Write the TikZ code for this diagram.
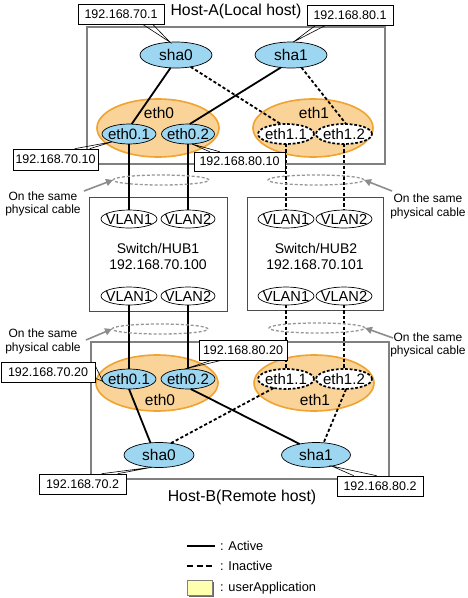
\documentclass[tikz,border=0pt]{standalone}
\usepackage{fontspec}
\setmainfont{Liberation Sans}
\usetikzlibrary{shapes.geometric,arrows.meta}
\definecolor{shablue}{RGB}{156,214,240}
\definecolor{ethfill}{RGB}{250,211,152}
\definecolor{ethdraw}{RGB}{240,163,48}
\definecolor{hostgray}{RGB}{128,128,128}
\definecolor{cablegray}{RGB}{150,150,150}
\definecolor{arrowgray}{RGB}{140,140,140}
\definecolor{appyellow}{RGB}{255,255,176}
\tikzset{
  hostbox/.style={draw=hostgray, line width=1.4pt, rectangle, inner sep=0pt, outer sep=0pt},
  swbox/.style={draw=black!70, line width=1pt, rectangle, inner sep=0pt, outer sep=0pt},
  ell/.style={ellipse, inner sep=0pt, outer sep=0pt},
  shanode/.style={ell, draw=black, line width=0.7pt, fill=shablue, font=\fontsize{15.5}{15.5}\selectfont},
  bigeth/.style={ell, draw=ethdraw, line width=1.6pt, fill=ethfill},
  activeif/.style={ell, draw=black, line width=0.7pt, fill=shablue, font=\fontsize{15}{15}\selectfont},
  inactiveif/.style={ell, draw=black, line width=1.7pt, dash pattern=on 2.8pt off 1.8pt, fill=white, font=\fontsize{15}{15}\selectfont},
  vlan/.style={ell, draw=black, line width=0.7pt, fill=white, font=\fontsize{14.6}{14.6}\selectfont},
  cable/.style={ell, draw=cablegray, line width=1.3pt, dash pattern=on 3pt off 2pt},
  ipbox/.style={rectangle, draw=black, line width=0.6pt, fill=white, inner sep=0pt, font=\fontsize{12.5}{12.5}\selectfont},
  callout/.style={draw=black, line width=0.6pt},
  actline/.style={draw=black, line width=1.8pt},
  inactline/.style={draw=black, line width=1.8pt, dash pattern=on 3.2pt off 2.2pt},
  legdash/.style={draw=black, line width=1.8pt, dash pattern=on 6pt off 3.5pt},
  grayarrow/.style={draw=arrowgray, line width=1.6pt, -{Triangle[length=7pt,width=7pt]}},
  lbl/.style={inner sep=0pt, font=\fontsize{15.5}{15.5}\selectfont},
  swlbl/.style={inner sep=0pt, font=\fontsize{14}{14}\selectfont},
  notelbl/.style={inner sep=0pt, align=center, font=\fontsize{12}{13.5}\selectfont},
  leglbl/.style={inner sep=0pt, anchor=west, font=\fontsize{12.8}{12.8}\selectfont},
}
\newcommand{\zw}[1]{\makebox[0pt][c]{#1}}
\begin{document}
\begin{tikzpicture}[x=1pt,y=-1pt]
\useasboundingbox (0,0) rectangle (468,598);

% Host A
\node[hostbox, minimum width=298pt, minimum height=137pt] (hostA) at (236,95.5) {};
\node[lbl, font=\fontsize{15.8}{15.8}\selectfont] (hostAt) at (236,11) {Host-A(Local host)};
\node[bigeth, minimum width=122pt, minimum height=58pt] (eth0A) at (158,128) {};
\node[bigeth, minimum width=120pt, minimum height=58pt] (eth1A) at (313,128) {};
\node[lbl] (eth0At) at (159,113) {eth0};
\node[lbl] (eth1At) at (314,113) {eth1};
\node[shanode, minimum width=72pt, minimum height=26pt] (sha0A) at (176,55) {\zw{sha0}};
\node[shanode, minimum width=72pt, minimum height=26pt] (sha1A) at (291,55) {\zw{sha1}};
\node[activeif, minimum width=54pt, minimum height=20pt] (e01A) at (129,134) {\zw{eth0.1}};
\node[activeif, minimum width=53pt, minimum height=20pt] (e02A) at (188,134) {\zw{eth0.2}};
\node[inactiveif, minimum width=56pt, minimum height=20pt] (e11A) at (286,134) {\zw{eth1.1}};
\node[inactiveif, minimum width=56pt, minimum height=20pt] (e12A) at (344,134) {\zw{eth1.2}};

% Switches
\node[swbox, minimum width=138pt, minimum height=114pt] (sw1) at (158,254) {};
\node[swbox, minimum width=136pt, minimum height=113pt] (sw2) at (315,253.5) {};
\node[vlan, minimum width=56pt, minimum height=18pt] (v1t1) at (129,219) {\zw{VLAN1}};
\node[vlan, minimum width=54pt, minimum height=18pt] (v2t1) at (188,219) {\zw{VLAN2}};
\node[vlan, minimum width=56pt, minimum height=18pt] (v1b1) at (129,296) {\zw{VLAN1}};
\node[vlan, minimum width=54pt, minimum height=18pt] (v2b1) at (188,296) {\zw{VLAN2}};
\node[vlan, minimum width=56pt, minimum height=18pt] (v1t2) at (286,219) {\zw{VLAN1}};
\node[vlan, minimum width=56pt, minimum height=18pt] (v2t2) at (344,219) {\zw{VLAN2}};
\node[vlan, minimum width=56pt, minimum height=18pt] (v1b2) at (286,296) {\zw{VLAN1}};
\node[vlan, minimum width=56pt, minimum height=18pt] (v2b2) at (344,296) {\zw{VLAN2}};
\node[swlbl] (sw1n) at (158,248) {Switch/HUB1};
\node[swlbl] (sw1ip) at (158,265) {192.168.70.100};
\node[swlbl] (sw2n) at (316,248) {Switch/HUB2};
\node[swlbl] (sw2ip) at (315,265) {192.168.70.101};

% Host B
\node[hostbox, minimum width=298pt, minimum height=137pt] (hostB) at (240,410.5) {};
\node[lbl, font=\fontsize{15.8}{15.8}\selectfont] (hostBt) at (242,497) {Host-B(Remote host)};
\node[bigeth, minimum width=122pt, minimum height=56pt] (eth0B) at (157,383) {};
\node[bigeth, minimum width=120pt, minimum height=56pt] (eth1B) at (314,383) {};
\node[lbl] (eth0Bt) at (160,400) {eth0};
\node[lbl] (eth1Bt) at (315,400) {eth1};
\node[activeif, minimum width=54pt, minimum height=20pt] (e01B) at (129,379) {\zw{eth0.1}};
\node[activeif, minimum width=54pt, minimum height=20pt] (e02B) at (188,379) {\zw{eth0.2}};
\node[inactiveif, minimum width=56pt, minimum height=20pt] (e11B) at (286,379) {\zw{eth1.1}};
\node[inactiveif, minimum width=56pt, minimum height=20pt] (e12B) at (344,379) {\zw{eth1.2}};
\node[shanode, minimum width=70pt, minimum height=25pt] (sha0B) at (159,455) {\zw{sha0}};
\node[shanode, minimum width=69pt, minimum height=25pt] (sha1B) at (316,455) {\zw{sha1}};

% connections host A
\draw[actline] (sha0A.247) -- (e01A.75);
\draw[inactline] (sha0A.321) -- (e11A.117);
\draw[actline] (sha1A.231) -- (e02A.80);
\draw[inactline] (sha1A.310) -- (e12A.78);
% vertical links
\draw[actline] (e01A.south) -- (v1t1.north);
\draw[actline] (e02A.south) -- (v2t1.north);
\draw[inactline] (e11A.south) -- (v1t2.north);
\draw[inactline] (e12A.south) -- (v2t2.north);
\draw[actline] (v1b1.south) -- (e01B.north);
\draw[actline] (v2b1.south) -- (e02B.north);
\draw[inactline] (v1b2.south) -- (e11B.north);
\draw[inactline] (v2b2.south) -- (e12B.north);
% connections host B
\draw[actline] (e01B.south) -- (sha0B.125);
\draw[actline] (e02B.285) -- (sha1B.146);
\draw[inactline] (e11B.216) -- (sha0B.45);
\draw[inactline] (e12B.282) -- (sha1B.58);

% cables
\node[cable, minimum width=96pt, minimum height=10pt] (c1) at (161,180) {};
\node[cable, minimum width=96pt, minimum height=10pt] (c2) at (316,180) {};
\node[cable, minimum width=96pt, minimum height=10pt] (c3) at (160,329) {};
\node[cable, minimum width=96pt, minimum height=10pt] (c4) at (317,328) {};
\node[notelbl] (n1) at (43,204) {On the same\\physical cable};
\node[notelbl] (n2) at (428,206.5) {On the same\\physical cable};
\node[notelbl] (n3) at (43,341.5) {On the same\\physical cable};
\node[notelbl] (n4) at (428,345) {On the same\\physical cable};
\coordinate (a1) at (84,191);
\coordinate (a2) at (392,191);
\coordinate (a3) at (86,340);
\coordinate (a4) at (393,338);
\draw[grayarrow] (a1) -- (c1.west);
\draw[grayarrow] (a2) -- (c2.east);
\draw[grayarrow] (a3) -- (c3.west);
\draw[grayarrow] (a4) -- (c4.east);

% IP labels with callouts
\node[ipbox, minimum width=86pt, minimum height=20pt] (ip701) at (121,14) {192.168.70.1};
\draw[callout] ([xshift=65pt]ip701.south west) -- (sha0A.115) -- ([xshift=75pt]ip701.south west);
\node[ipbox, minimum width=86pt, minimum height=20pt] (ip801) at (350,15) {192.168.80.1};
\draw[callout] ([xshift=9pt]ip801.south west) -- (sha1A.80) -- ([xshift=19pt]ip801.south west);
\node[ipbox, minimum width=85pt, minimum height=21pt] (ip7010) at (55.5,159.5) {192.168.70.10};
\draw[callout] ([xshift=62pt]ip7010.north west) -- (e01A.205) -- ([xshift=77pt]ip7010.north west);
\node[ipbox, minimum width=91pt, minimum height=19pt] (ip8010) at (239.5,161.5) {192.168.80.10};
\draw[callout] ([xshift=16pt]ip8010.north west) -- (e02A.290) -- ([xshift=26pt]ip8010.north west);
\node[ipbox, minimum width=94pt, minimum height=20pt] (ip7020) at (48,372) {192.168.70.20};
\draw[callout] ([yshift=-4pt]ip7020.north east) -- (e01B.185) -- ([yshift=4pt]ip7020.south east);
\node[ipbox, minimum width=88pt, minimum height=20pt] (ip8020) at (243,350) {192.168.80.20};
\draw[callout] ([xshift=13pt]ip8020.south west) -- (e02B.110) -- ([xshift=23pt]ip8020.south west);
\node[ipbox, minimum width=87pt, minimum height=20pt] (ip702) at (82.5,484) {192.168.70.2};
\draw[callout] ([xshift=63pt]ip702.north west) -- (sha0B.240) -- ([xshift=79pt]ip702.north west);
\node[ipbox, minimum width=86pt, minimum height=20pt] (ip802) at (380,486) {192.168.80.2};
\draw[callout] ([xshift=17pt]ip802.north west) -- (sha1B.325) -- ([xshift=40pt]ip802.north west);

% legend
\coordinate (l1a) at (187,546);
\coordinate (l1b) at (215,546);
\coordinate (l2a) at (187,566);
\coordinate (l2b) at (215,566);
\draw[actline] (l1a) -- (l1b);
\draw[legdash] (l2a) -- (l2b);
\node[leglbl] (lt1) at (220,546) {: Active};
\node[leglbl] (lt2) at (220,566) {: Inactive};
\fill[black!60] (189,582) rectangle (214,597);
\node[rectangle, draw=black!50, line width=0.7pt, fill=appyellow, minimum width=25pt, minimum height=15pt, inner sep=0pt] (lbox) at (199.5,587.5) {};
\node[leglbl] (lt3) at (220,588) {: userApplication};
\end{tikzpicture}
\end{document}
